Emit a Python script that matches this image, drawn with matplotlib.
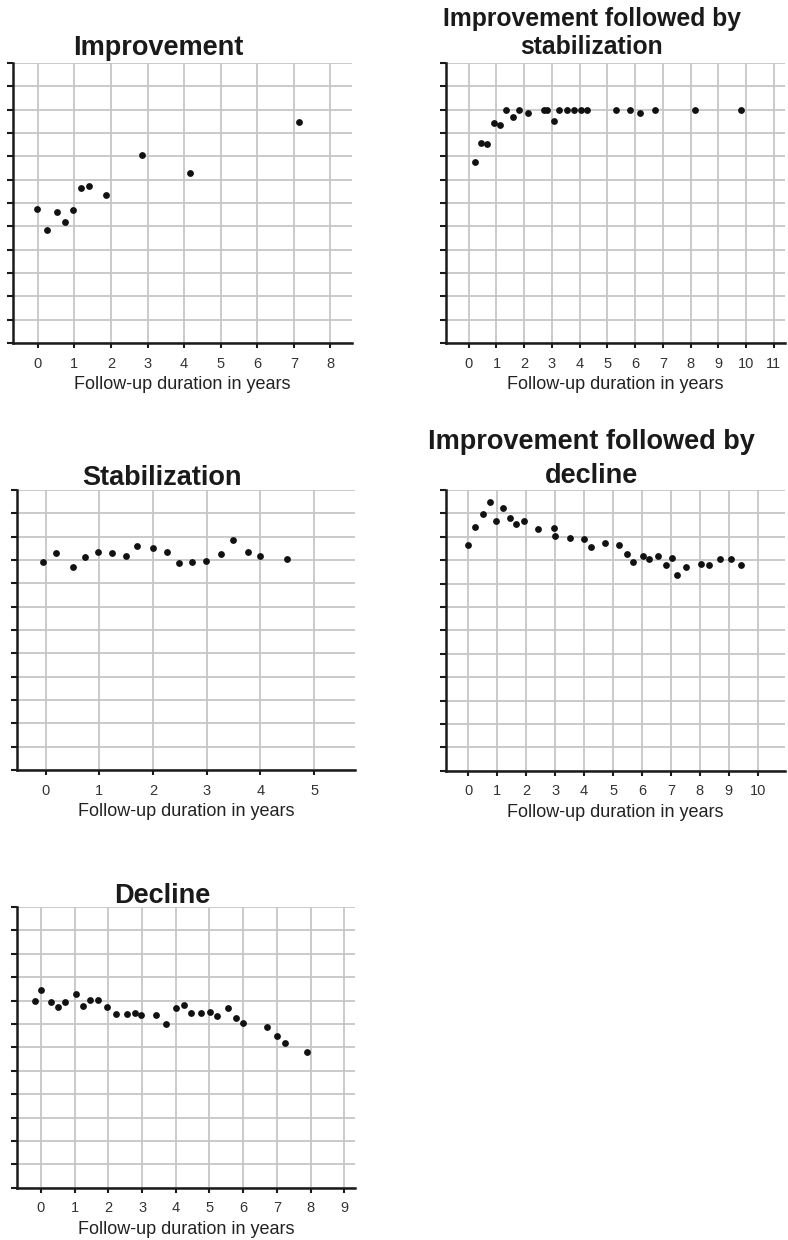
import matplotlib
matplotlib.use('Agg')
import matplotlib.pyplot as plt

plt.rcParams['font.family'] = ['Liberation Sans', 'DejaVu Sans']

# data (x = years, y = grid units 0..12)
improvement_x = [-0.02, 0.24, 0.52, 0.73, 0.96, 1.17, 1.40, 1.87, 2.86, 4.16, 7.14]
improvement_y = [5.74, 4.83, 5.61, 5.20, 5.69, 6.64, 6.73, 6.34, 8.05, 7.30, 9.49]

impstab_x = [0.22, 0.43, 0.67, 0.91, 1.13, 1.35, 1.59, 1.82, 2.12, 2.73, 2.83, 3.06,
             3.25, 3.53, 3.79, 4.03, 4.26, 5.32, 5.81, 6.16, 6.70, 8.16, 9.80]
impstab_y = [7.75, 8.59, 8.52, 9.43, 9.33, 10.0, 9.68, 10.0, 9.86, 10.0, 10.0, 9.52,
             10.0, 10.0, 10.0, 10.0, 10.0, 10.0, 10.0, 9.86, 10.0, 10.0, 10.0]

stab_x = [-0.05, 0.19, 0.50, 0.73, 0.98, 1.23, 1.49, 1.70, 1.99, 2.26, 2.49, 2.72,
          2.99, 3.26, 3.49, 3.76, 3.99, 4.49]
stab_y = [8.93, 9.31, 8.69, 9.14, 9.33, 9.29, 9.16, 9.59, 9.50, 9.33, 8.86, 8.93,
          8.97, 9.27, 9.84, 9.36, 9.16, 9.06]

impdec_x = [0.0, 0.24, 0.51, 0.75, 0.97, 1.21, 1.43, 1.66, 1.92, 2.42, 2.96, 3.00,
            3.50, 4.01, 4.24, 4.72, 5.22, 5.47, 5.68, 6.04, 6.23, 6.55, 6.82, 7.03,
            7.20, 7.51, 8.04, 8.32, 8.68, 9.08, 9.42]
impdec_y = [9.64, 10.43, 10.98, 11.48, 10.66, 11.24, 10.80, 10.53, 10.68, 10.33, 10.37, 10.03,
            9.93, 9.90, 9.57, 9.72, 9.63, 9.26, 8.93, 9.17, 9.07, 9.17, 8.80, 9.10,
            8.35, 8.72, 8.82, 8.79, 9.07, 9.07, 8.79]

decline_x = [-0.17, 0.0, 0.30, 0.50, 0.71, 1.05, 1.25, 1.47, 1.70, 1.97, 2.22, 2.55,
             2.78, 2.98, 3.42, 3.70, 4.01, 4.25, 4.45, 4.75, 5.02, 5.21, 5.56, 5.78,
             5.99, 6.72, 7.00, 7.23, 7.90]
decline_y = [7.97, 8.47, 7.93, 7.72, 7.93, 8.30, 7.77, 8.02, 8.02, 7.72, 7.43, 7.42,
             7.47, 7.38, 7.38, 6.98, 7.67, 7.79, 7.45, 7.47, 7.53, 7.35, 7.67, 7.26,
             7.06, 6.89, 6.49, 6.19, 5.79]

titles = ['Improvement', 'Improvement followed by\nstabilization', 'Stabilization',
          'Improvement followed by\ndecline', 'Decline']
xmax_ticks = [8, 11, 5, 10, 9]
xlabel = 'Follow-up duration in years'

W, H = 788, 1240
fig = plt.figure(figsize=(W / 100, H / 100), dpi=100)


def add_ax(left, right, top, bottom):
    return fig.add_axes([left / W, 1 - bottom / H, (right - left) / W, (bottom - top) / H])


def draw_panel(ax, xs, ys, title, nmax, xlo, xhi, ty, tsize=19.5, tspace=1.4):
    ax.set_xlim(xlo, xhi)
    ax.set_ylim(0, 12)
    ax.set_xticks(range(0, nmax + 1))
    ax.set_yticks(range(0, 13))
    ax.set_yticklabels([])
    ax.grid(True, color='#c6c6c6', linewidth=1.3)
    ax.set_axisbelow(True)
    for s in ['top', 'right']:
        ax.spines[s].set_visible(False)
    for s in ['left', 'bottom']:
        ax.spines[s].set_linewidth(1.8)
        ax.spines[s].set_color('#1a1a1a')
    ax.tick_params(axis='x', direction='out', length=3.8, width=1.5, color='#1a1a1a',
                   labelsize=10.5, labelcolor='#333333', pad=6)
    ax.tick_params(axis='y', direction='out', length=4.3, width=1.5, color='#1a1a1a')
    ax.scatter(xs, ys, s=15, color='#111111', zorder=3, clip_on=False)
    ax.set_xlabel(xlabel, fontsize=13, color='#222222', labelpad=4)
    ax.text(0.43, ty, title, transform=ax.transAxes, ha='center', va='baseline',
            fontsize=tsize, fontweight='bold', color='#1a1a1a', linespacing=tspace,
            multialignment='center')


ax1 = add_ax(13.3, 351.7, 63, 343)
draw_panel(ax1, improvement_x, improvement_y, titles[0], xmax_ticks[0], -0.67, 8.58, 1.029)

ax2 = add_ax(446, 785, 63, 343)
draw_panel(ax2, impstab_x, impstab_y, titles[1], xmax_ticks[1], -0.82, 11.4, 1.032,
           tsize=17.8, tspace=1.22)

ax3 = add_ax(16.7, 355, 490, 770)
draw_panel(ax3, stab_x, stab_y, titles[2], xmax_ticks[2], -0.54, 5.76, 1.018)

ax4 = add_ax(446, 785, 490, 770.7)
draw_panel(ax4, impdec_x, impdec_y, titles[3], xmax_ticks[3], -0.77, 10.94, 1.025)

ax5 = add_ax(16.7, 355, 907, 1187.7)
draw_panel(ax5, decline_x, decline_y, titles[4], xmax_ticks[4], -0.72, 9.32, 1.014)

fig.savefig('out.png', dpi=100, facecolor='white')
